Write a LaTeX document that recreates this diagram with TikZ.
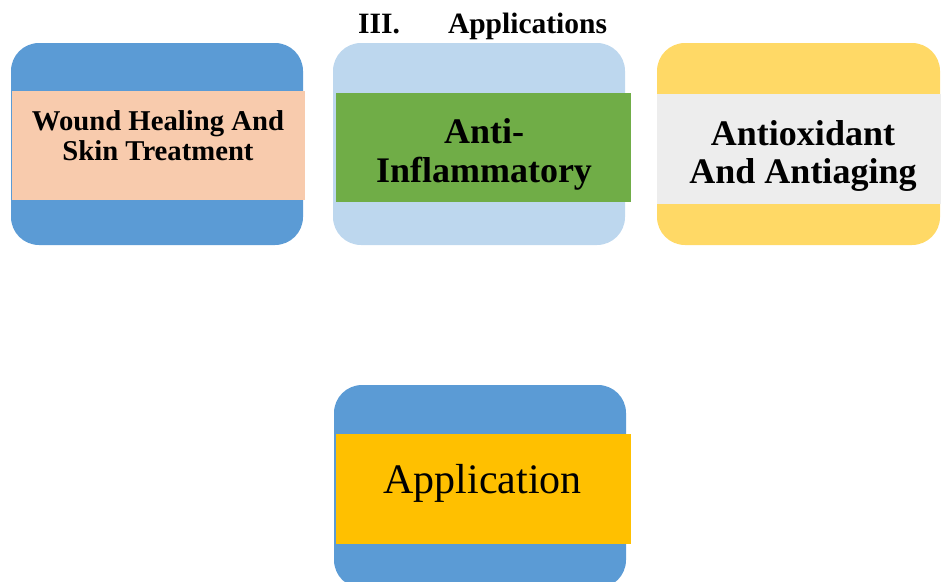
\documentclass[tikz,border=0pt]{standalone}
\usepackage{fontspec}
\setmainfont{Liberation Serif}
\definecolor{cBlue}{HTML}{5B9BD5}
\definecolor{cLightBlue}{HTML}{BDD7EE}
\definecolor{cPeach}{HTML}{F8CBAD}
\definecolor{cGreen}{HTML}{70AD47}
\definecolor{cYellow}{HTML}{FFD966}
\definecolor{cGray}{HTML}{EDEDED}
\definecolor{cGold}{HTML}{FFC000}
\begin{document}
\begin{tikzpicture}[x=1pt,y=-1pt,
  card/.style={draw=none, rectangle, rounded corners=28pt, inner sep=0pt},
  bandbox/.style={draw=none, rectangle, inner sep=0pt, minimum height=109pt},
  smalllbl/.style={font=\fontsize{28.7}{30}\selectfont\bfseries, anchor=base, inner sep=0pt},
  biglbl/.style={font=\fontsize{36}{40}\selectfont\bfseries, anchor=base, inner sep=0pt},
  applbl/.style={font=\fontsize{42}{46}\selectfont, anchor=base, inner sep=0pt},
  titlelbl/.style={font=\fontsize{29.5}{32}\selectfont\bfseries, anchor=base west, inner sep=0pt}]
\useasboundingbox (0,0) rectangle (941,581);
\clip (0,0) rectangle (941,581);

% title
\node[titlelbl] (title) at (358,33) {III.\hspace{48pt}Applications};

% box 1
\node[card, fill=cBlue, minimum width=292pt, minimum height=202pt] (b1) at (157,144) {};
\node[bandbox, fill=cPeach, minimum width=293pt] (band1) at (158.5,145.5) {};
\node[smalllbl] (t1a) at (158,130) {Wound Healing And};
\node[smalllbl] (t1b) at (158,160) {Skin Treatment};

% box 2
\node[card, fill=cLightBlue, minimum width=292pt, minimum height=202pt] (b2) at (479,144) {};
\node[bandbox, fill=cGreen, minimum width=295pt] (band2) at (483.5,147.5) {};
\node[biglbl] (t2a) at (484,143) {Anti-};
\node[biglbl] (t2b) at (484,182) {Inflammatory};

% box 3
\node[card, fill=cYellow, minimum width=283pt, minimum height=202pt] (b3) at (798.5,144) {};
\node[bandbox, fill=cGray, minimum width=284pt, minimum height=110pt] (band3) at (799,149) {};
\node[biglbl] (t3a) at (803,145) {Antioxidant};
\node[biglbl] (t3b) at (803,183) {And Antiaging};

% box 4
\node[card, fill=cBlue, minimum width=292pt, minimum height=203pt] (b4) at (480,486.5) {};
\node[bandbox, fill=cGold, minimum width=295pt, minimum height=110pt] (band4) at (483.5,489) {};
\node[applbl] (t4) at (482.5,493) {Application};
\end{tikzpicture}
\end{document}
